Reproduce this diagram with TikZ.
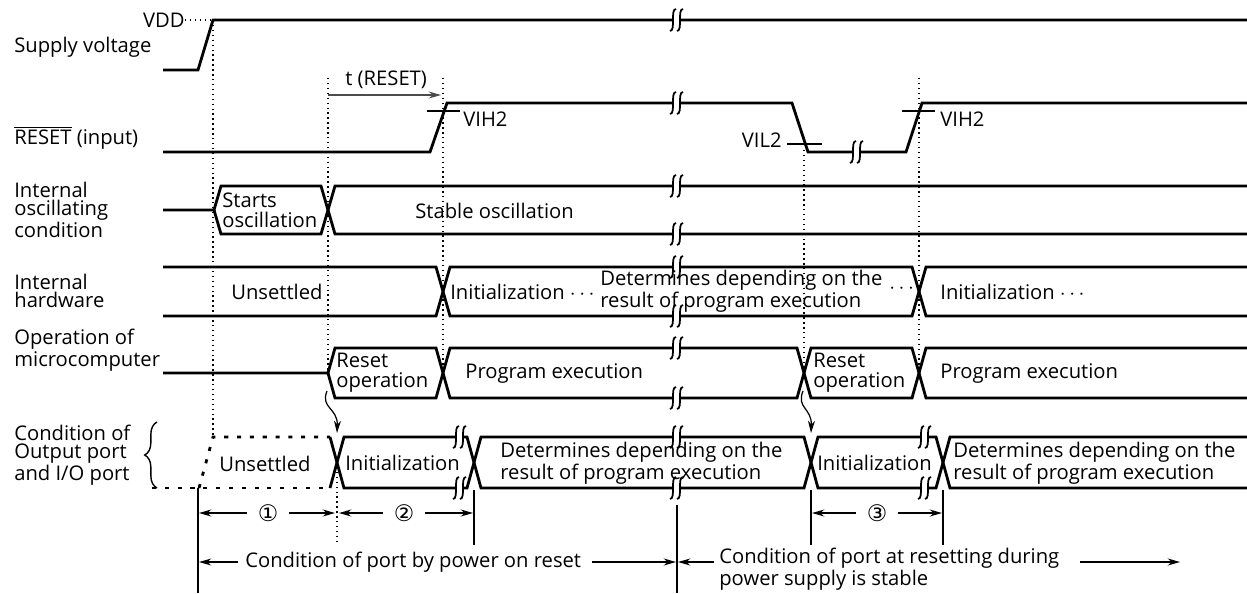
\documentclass[tikz,border=0pt]{standalone}
\usepackage{fontspec}
\setmainfont{Open Sans}
\newfontfamily\circfont{DejaVu Sans}
\usetikzlibrary{arrows.meta, decorations.pathreplacing}

\begin{document}
\begin{tikzpicture}[
  x=0.02cm, y=-0.02cm,
  font=\fontsize{11.5}{11.5}\selectfont,
  sig/.style={line width=1.6pt, line join=miter},
  guide/.style={line width=0.8pt, dash pattern=on 0.8pt off 2pt},
  unset/.style={line width=1.6pt, dash pattern=on 2.3pt off 5pt},
  dim/.style={line width=0.7pt},
  >={Stealth[length=7pt,width=4pt]},
  lbl/.style={align=left, inner sep=0pt, anchor=west, font=\fontsize{11.5}{10.6}\selectfont},
  txt/.style={align=left, inner sep=0pt, anchor=west, font=\fontsize{11.5}{10.6}\selectfont},
  tall/.style={txt, font=\fontsize{11.5}{11.6}\selectfont},
  num/.style={inner sep=1pt, font=\circfont\fontsize{13}{13}\selectfont},
  brk/.pic={
    \fill[white] (-4,-3) rectangle (3,3);
    \draw[line width=1pt] (-1,-11) .. controls (-7,-11) and (-1,11) .. (-7,11);
    \draw[line width=1pt] (6,-11) .. controls (0,-11) and (6,11) .. (0,11);
  }
]
\useasboundingbox (0,0) rectangle (1247,593);

% row labels
\node[lbl] (sup) at (14,47) {Supply voltage};
\node[lbl] (rst) at (14,138) {$\overline{\hbox{RESET}}$ (input)};
\node[lbl] (osc) at (14,210) {Internal\\oscillating\\condition};
\node[lbl] (hw) at (14,291) {Internal\\hardware};
\node[lbl] (mc) at (14,350) {Operation of\\microcomputer};
\node[lbl] (prt) at (14,455) {Condition of\\Output port\\and I/O port};
\draw[line width=0.8pt, decorate, decoration={brace, amplitude=7pt}] (157,488) -- (157,422);

% guide lines
\draw[guide] (213,20) -- (213,437);
\draw[guide] (328,78) -- (328,373);
\draw[guide] (337,462) -- (337,545);
\draw[guide] (443,78) -- (443,373);
\draw[guide] (804,150) -- (804,373);
\draw[guide] (919,78) -- (919,373);

% supply voltage
\node[anchor=east, inner sep=0pt] (vdd) at (185,20) {VDD};
\draw[guide] (vdd.east) -- (213,20);
\draw[sig] (163,70) -- (198,70) -- (213,20) -- (1247,20);
\pic at (677,20) {brk};

% reset input
\draw[sig] (163,152) -- (430,152) -- (447,103) -- (792,103) -- (808,152) -- (906,152) -- (922,103) -- (1247,103);
\pic at (677,103) {brk};
\pic at (857,152) {brk};
\draw[line width=0.9pt] (427,111) -- (460,111);
\node[anchor=west, inner sep=0pt] (vih1) at (463,119) {VIH2};
\draw[line width=0.9pt] (787,144) -- (822,144);
\node[anchor=east, inner sep=0pt] (vil) at (782,140) {VIL2};
\draw[line width=0.9pt] (902,111) -- (935,111);
\node[anchor=west, inner sep=0pt] (vih2) at (940,119) {VIH2};
\node[anchor=west, inner sep=0pt] (tres) at (345,80) {t (RESET)};
\coordinate (tr0) at (328,95);
\coordinate (tr1) at (441,95);
\draw[dim, black!70, ->] (tr0) -- (tr1);

% internal oscillating condition
\draw[sig] (163,210) -- (214,210) -- (221,186) -- (321,186) -- (335,234) -- (1247,234);
\draw[sig] (214,210) -- (221,234) -- (321,234) -- (335,186) -- (1247,186);
\pic at (677,186) {brk};
\pic at (677,234) {brk};
\node[tall] (sto) at (222,210) {Starts\\oscillation};
\node[txt] (sbo) at (415,211) {Stable oscillation};

% internal hardware
\draw[sig] (163,267) -- (436,267) -- (450,316) -- (912,316) -- (926,267) -- (1247,267);
\draw[sig] (163,316) -- (436,316) -- (450,267) -- (912,267) -- (926,316) -- (1247,316);
\pic at (677,267) {brk};
\pic at (677,316) {brk};
\node[txt] (uns1) at (231,292) {Unsettled};
\node[txt] (ini1) at (450,292) {Initialization $\cdots$};
\node[txt] (det1) at (600,291) {Determines depending on the\\result of program execution};
\node[txt] (dot1) at (889,289) {$\cdots$};
\node[txt] (ini2) at (940,292) {Initialization $\cdots$};

% operation of microcomputer
\draw[sig] (163,373) -- (328,373) -- (335,348) -- (436,348) -- (450,398) -- (797,398) -- (811,348) -- (912,348) -- (926,398) -- (1247,398);
\draw[sig] (328,373) -- (335,398) -- (436,398) -- (450,348) -- (797,348) -- (811,398) -- (912,398) -- (926,348) -- (1247,348);
\pic at (677,348) {brk};
\pic at (677,398) {brk};
\node[tall] (rop1) at (336,373) {Reset\\operation};
\node[txt] (pex1) at (465,374) {Program execution};
\node[tall] (rop2) at (813,373) {Reset\\operation};
\node[txt] (pex2) at (940,374) {Program execution};

% condition of ports
\draw[unset] (152,488) -- (330,488);
\draw[unset] (199,488) -- (213,437) -- (330,437);
\draw[sig] (330,437) -- (344,488) -- (467,488) -- (481,437) -- (804,437) -- (818,488) -- (936,488) -- (950,437) -- (1247,437);
\draw[sig] (330,488) -- (344,437) -- (467,437) -- (481,488) -- (804,488) -- (818,437) -- (936,437) -- (950,488) -- (1247,488);
\foreach \bx in {460,677,925} {
  \pic at (\bx,437) {brk};
  \pic at (\bx,488) {brk};
}
\node[txt] (uns2) at (219,464) {Unsettled};
\node[txt] (ini3) at (345,463) {Initialization};
\node[txt] (det2) at (500,463) {Determines depending on the\\result of program execution};
\node[txt] (ini4) at (817,463) {Initialization};
\node[txt] (det3) at (953,463) {Determines depending on the\\result of program execution};

% reset operation starts port initialization
\coordinate (w1a) at (327,391);
\coordinate (w1b) at (337,433);
\coordinate (w2a) at (803,391);
\coordinate (w2b) at (811,433);
\draw[dim, ->] (w1a) .. controls (320,408) and (338,408) .. (w1b);
\draw[dim, ->] (w2a) .. controls (796,408) and (812,408) .. (w2b);

% dimensions
\draw[dim] (198,488) -- (198,593);
\draw[dim] (474,490) -- (474,545);
\draw[dim] (677,505) -- (677,593);
\draw[dim] (811,490) -- (811,545);
\draw[dim] (943,490) -- (943,545);

\node[num] (n1) at (268,513) {①};
\node[num] (n2) at (404,513) {②};
\node[num] (n3) at (877,513) {③};
\coordinate (a1l) at (199,513);
\coordinate (a1r) at (335,513);
\coordinate (a2l) at (339,513);
\coordinate (a2r) at (473,513);
\coordinate (a3l) at (812,513);
\coordinate (a3r) at (942,513);
\draw[dim, ->] ([xshift=-5pt]n1.west) -- (a1l);
\draw[dim, ->] ([xshift=5pt]n1.east) -- (a1r);
\draw[dim, ->] ([xshift=-5pt]n2.west) -- (a2l);
\draw[dim, ->] ([xshift=5pt]n2.east) -- (a2r);
\draw[dim, ->] ([xshift=-5pt]n3.west) -- (a3l);
\draw[dim, ->] ([xshift=5pt]n3.east) -- (a3r);

\node[txt] (por) at (245,562) {Condition of port by power on reset};
\node[txt] (stb) at (719,569) {Condition of port at resetting during\\power supply is stable};
\coordinate (p1) at (199,562);
\coordinate (p2) at (676,562);
\coordinate (p3) at (678,562);
\coordinate (p4) at (1080,562);
\coordinate (p5) at (1180,562);
\draw[dim, ->] ([xshift=-4pt]por.west) -- (p1);
\draw[dim, ->] ([xshift=6pt]por.east) -- (p2);
\draw[dim, ->] ([xshift=-3pt]stb.west |- p3) -- (p3);
\draw[dim, ->] (p4) -- (p5);
\end{tikzpicture}
\end{document}
